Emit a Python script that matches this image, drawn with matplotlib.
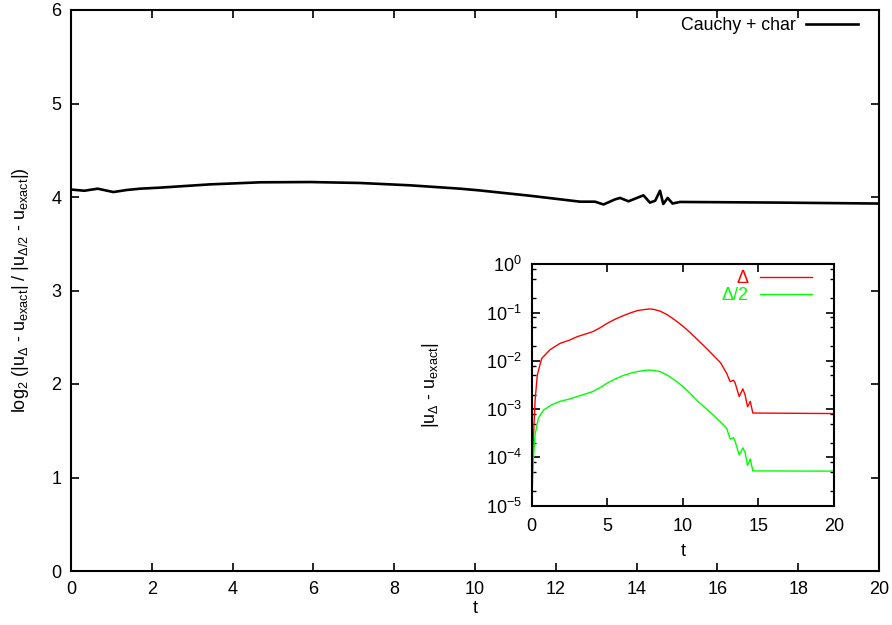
import matplotlib
matplotlib.use('Agg')
import matplotlib.pyplot as plt
from matplotlib.ticker import LogLocator, NullFormatter

plt.rcParams['font.family'] = ['Liberation Sans', 'DejaVu Sans']
plt.rcParams['mathtext.default'] = 'regular'
plt.rcParams['font.size'] = 13

# ---- main panel data: log2 convergence ratio vs t ----
t_main = [0.0, 0.33, 0.66, 1.05, 1.38, 1.71, 2.2, 3.44, 4.68, 5.92, 7.15, 8.39,
          9.63, 10.1, 11.35, 12.6, 12.97, 13.18, 13.47, 13.59, 13.8, 14.17,
          14.33, 14.46, 14.58, 14.66, 14.77, 14.89, 15.07, 17.55, 20.0]
ratio_main = [4.08, 4.067, 4.089, 4.053, 4.075, 4.089, 4.10, 4.135, 4.157, 4.160,
              4.150, 4.125, 4.089, 4.071, 4.014, 3.95, 3.95, 3.92, 3.975, 3.99,
              3.954, 4.018, 3.94, 3.96, 4.067, 3.925, 3.99, 3.93, 3.947, 3.94, 3.93]

# ---- inset data: absolute errors ----
t_delta = [0.0, 0.03, 0.1, 0.22, 0.37, 0.66, 1.21, 1.87, 2.5, 3.0, 3.5, 4.0, 4.5,
           5.0, 5.5, 6.0, 6.5, 7.0, 7.4, 7.8, 8.1, 8.5, 9.0, 9.5, 10.0, 10.5,
           11.0, 11.5, 12.0, 12.5, 12.9, 13.13, 13.35, 13.46, 13.73, 13.97, 14.12,
           14.28, 14.46, 14.63, 14.79, 20.0]
err_delta = [1.0e-5, 2.5e-5, 2.1e-4, 1.45e-3, 5.1e-3, 1.12e-2, 1.7e-2, 2.3e-2,
             2.69e-2, 3.16e-2, 3.55e-2, 3.98e-2, 4.79e-2, 6.0e-2, 7.24e-2, 8.5e-2,
             9.77e-2, 0.110, 0.115, 0.119, 0.116, 0.107, 0.089, 0.0692, 0.0525,
             0.038, 0.0269, 0.019, 0.0132, 9.1e-3, 5.5e-3, 3.7e-3, 3.98e-3,
             3.47e-3, 1.82e-3, 2.63e-3, 1.95e-3, 1.12e-3, 1.45e-3, 8.3e-4, 8.3e-4,
             8.1e-4]

t_half = [0.0, 0.1, 0.22, 0.44, 0.77, 1.32, 1.87, 2.5, 3.0, 3.5, 4.0, 4.5, 5.0,
          5.5, 6.0, 6.5, 7.0, 7.4, 7.8, 8.1, 8.5, 9.0, 9.5, 10.0, 10.5, 11.0,
          11.5, 12.0, 12.5, 12.9, 13.13, 13.35, 13.46, 13.73, 13.97, 14.12, 14.28,
          14.46, 14.63, 14.79, 20.0]
err_half = [1.0e-5, 8.1e-5, 2.95e-4, 6.5e-4, 9.5e-4, 1.23e-3, 1.45e-3, 1.62e-3,
            1.82e-3, 2.04e-3, 2.29e-3, 2.75e-3, 3.47e-3, 4.17e-3, 4.9e-3, 5.5e-3,
            6.0e-3, 6.3e-3, 6.45e-3, 6.3e-3, 6.0e-3, 5.0e-3, 3.9e-3, 2.95e-3,
            2.09e-3, 1.45e-3, 1.05e-3, 7.6e-4, 5.4e-4, 4.0e-4, 2.4e-4, 2.57e-4,
            2.14e-4, 1.12e-4, 1.58e-4, 1.26e-4, 6.8e-5, 9.3e-5, 5.25e-5, 5.25e-5,
            5.2e-5]

main_xticks = [0, 2, 4, 6, 8, 10, 12, 14, 16, 18, 20]
main_yticks = [0, 1, 2, 3, 4, 5, 6]
inset_xticks = [0, 5, 10, 15, 20]

W, H = 892, 625
fig = plt.figure(figsize=(W / 100, H / 100), dpi=100)

# main axes
ax = fig.add_axes([71 / W, (H - 571) / H, (879 - 71) / W, (571 - 10) / H])
ax.plot(t_main, ratio_main, color='black', lw=1.9, label='Cauchy + char')
ax.set_xlim(0, 20)
ax.set_ylim(0, 6)
ax.set_xticks(main_xticks)
ax.set_yticks(main_yticks)
ax.tick_params(direction='in', top=True, right=True, length=6, width=1.2, pad=7,
               labelsize=13)
for s in ax.spines.values():
    s.set_linewidth(1.5)
ax.set_xlabel('t', fontsize=13)
ax.xaxis.set_label_coords(0.5, -0.052)
ax.set_ylabel('log$_2$ (|u$_Δ$ - u$_{exact}$| / |u$_{Δ/2}$ - u$_{exact}$|)', fontsize=13)
ax.yaxis.set_label_coords(-0.050, 0.5)
ax.legend(loc='upper right', frameon=False, markerfirst=False,
          handlelength=2.9, handletextpad=0.6, borderaxespad=0.0,
          borderpad=0.0, fontsize=12.8,
          bbox_to_anchor=(858 / W, 1 - 17 / H), bbox_transform=fig.transFigure)

# inset axes
L, R, T, B = 531.7, 834.0, 264.3, 505.7
ax2 = fig.add_axes([L / W, (H - B) / H, (R - L) / W, (B - T) / H])
ax2.plot(t_delta, err_delta, color='#ff0000', lw=1.0, label='Δ')
ax2.plot(t_half, err_half, color='#00ff00', lw=1.0, label='Δ/2')
ax2.set_yscale('log')
ax2.set_xlim(0, 20)
ax2.set_ylim(1e-5, 1e0)
ax2.set_xticks(inset_xticks)
ax2.yaxis.set_major_locator(LogLocator(base=10, numticks=10))
ax2.yaxis.set_minor_locator(LogLocator(base=10, subs=[2, 5, 8], numticks=20))
ax2.yaxis.set_minor_formatter(NullFormatter())
ax2.tick_params(which='major', direction='in', top=True, right=True, length=6,
                width=1.2, pad=7, labelsize=13)
ax2.tick_params(axis='x', which='major', pad=9)
ax2.tick_params(which='minor', direction='in', left=True, right=True, length=3,
                width=1.0)
for s in ax2.spines.values():
    s.set_linewidth(1.5)
ax2.set_xlabel('t', fontsize=13)
ax2.xaxis.set_label_coords(0.5, -0.155)
ax2.set_ylabel('|u$_Δ$ - u$_{exact}$|', fontsize=13)
ax2.yaxis.set_label_coords(-0.300, 0.5)
ax2.legend(loc='upper right', frameon=False, markerfirst=False,
           handlelength=2.9, handletextpad=0.6, borderaxespad=0.0,
           borderpad=0.0, labelspacing=0.0, fontsize=13,
           labelcolor='linecolor',
           bbox_to_anchor=((812 - L) / (R - L), (B - 270) / (B - T)))

fig.savefig('out.png', dpi=100)
